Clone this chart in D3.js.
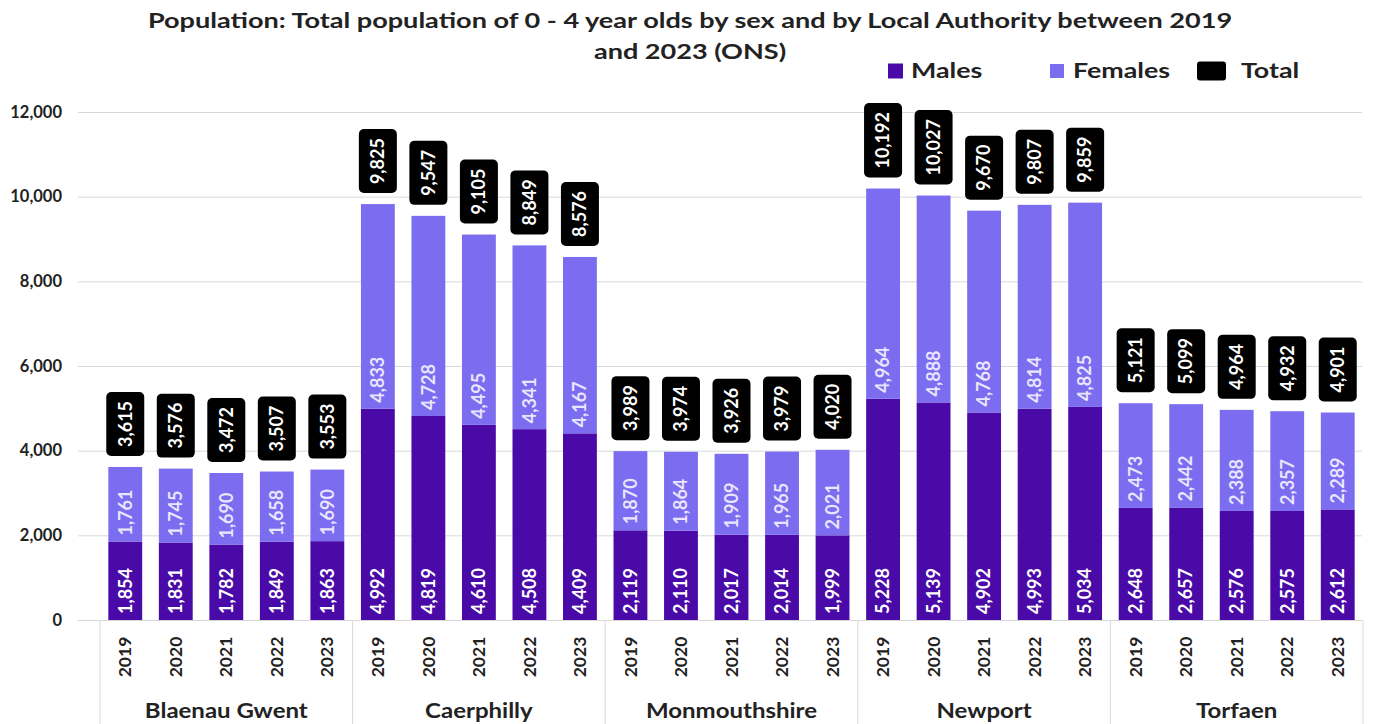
<!DOCTYPE html>
<html>
<head>
<meta charset="utf-8">
<script src="https://cdn.jsdelivr.net/npm/d3@7"></script>
<style>
  body { margin: 0; background: #fff; }
  svg { font-family: Lato, "Open Sans", sans-serif; }
</style>
</head>
<body>
<div id="chart"></div>
<script>
// categories
var authorities = ["Blaenau Gwent", "Caerphilly", "Monmouthshire", "Newport", "Torfaen"];
var years = ["2019", "2020", "2021", "2022", "2023"];

// series values (one row per authority, one value per year)
var males = [
  [1854, 1831, 1782, 1849, 1863],
  [4992, 4819, 4610, 4508, 4409],
  [2119, 2110, 2017, 2014, 1999],
  [5228, 5139, 4902, 4993, 5034],
  [2648, 2657, 2576, 2575, 2612]
];
var females = [
  [1761, 1745, 1690, 1658, 1690],
  [4833, 4728, 4495, 4341, 4167],
  [1870, 1864, 1909, 1965, 2021],
  [4964, 4888, 4768, 4814, 4825],
  [2473, 2442, 2388, 2357, 2289]
];
var totals = [
  [3615, 3576, 3472, 3507, 3553],
  [9825, 9547, 9105, 8849, 8576],
  [3989, 3974, 3926, 3979, 4020],
  [10192, 10027, 9670, 9807, 9859],
  [5121, 5099, 4964, 4932, 4901]
];
var yTicks = [0, 2000, 4000, 6000, 8000, 10000, 12000];

var W = 1379, H = 724;
var colMale = "#4a0aa8", colFemale = "#7b6cf0";
var fmt = d3.format(",");

// flatten into rows for the band scale
var rows = [];
authorities.forEach(function(a, i) {
  years.forEach(function(yr, j) {
    rows.push({key: a + "|" + yr, group: a, year: yr, m: males[i][j], f: females[i][j], t: totals[i][j]});
  });
});

var svg = d3.select("#chart").append("svg")
    .attr("width", W)
    .attr("height", H);

var x = d3.scaleBand()
    .domain(rows.map(function(d) { return d.key; }))
    .range([100, 1363])
    .paddingInner(0.33)
    .paddingOuter(0.165);

var y = d3.scaleLinear().domain([0, 12000]).range([620, 112]);

// horizontal texts in the source are drawn a bit wide, so stretch them in x
function wideText(parent, px, py, sx, anchor, size, str) {
  return parent.append("text")
      .attr("transform", "translate(" + px + "," + py + ") scale(" + sx + ",1)")
      .attr("text-anchor", anchor)
      .style("font-size", size + "px").style("font-weight", "bold")
      .attr("fill", "#222")
      .text(str);
}

// title
wideText(svg, 690, 28, 1.29, "middle", 21,
  "Population: Total population of 0 - 4 year olds by sex and by Local Authority between 2019");
wideText(svg, 690, 59, 1.29, "middle", 21, "and 2023 (ONS)");

// legend
var legend = [
  {label: "Males", color: colMale, x: 888, w: 15, h: 15, gap: 8},
  {label: "Females", color: colFemale, x: 1050, w: 14, h: 14, gap: 9},
  {label: "Total", color: "#000", x: 1197, w: 29, h: 19, gap: 15}
];
var lg = svg.append("g").attr("class", "legend");
legend.forEach(function(l) {
  lg.append("rect")
      .attr("x", l.x).attr("y", 71 - l.h / 2)
      .attr("width", l.w).attr("height", l.h)
      .attr("rx", l.label === "Total" ? 3 : 0)
      .attr("fill", l.color);
  wideText(lg, l.x + l.w + l.gap, 71, 1.34, "start", 20, l.label)
      .attr("dy", "0.35em");
});

// y axis with gridlines
var yAxis = d3.axisLeft(y)
    .tickValues(yTicks)
    .tickSize(1362 - 78)
    .tickPadding(16)
    .tickFormat(fmt);

var gy = svg.append("g")
    .attr("class", "y axis")
    .attr("transform", "translate(1362,0)")
    .call(yAxis);
gy.select(".domain").remove();
gy.selectAll("line").attr("stroke", "#d9d9d9");
gy.selectAll("text")
    .style("font-size", "16.5px").style("font-weight", "bold")
    .attr("fill", "#222").style("font-family", "Lato, sans-serif");

// bars
var bars = svg.append("g").attr("class", "bars");
var bw = x.bandwidth();

bars.selectAll(".male").data(rows).enter().append("rect")
    .attr("class", "male")
    .attr("x", function(d) { return x(d.key); })
    .attr("y", function(d) { return y(d.m); })
    .attr("width", bw)
    .attr("height", function(d) { return y(0) - y(d.m); })
    .attr("fill", colMale);

bars.selectAll(".female").data(rows).enter().append("rect")
    .attr("class", "female")
    .attr("x", function(d) { return x(d.key); })
    .attr("y", function(d) { return y(d.t); })
    .attr("width", bw)
    .attr("height", function(d) { return y(d.m) - y(d.t); })
    .attr("fill", colFemale);

// segment labels (inside base, rotated)
function segLabel(cls, base, val, fill) {
  svg.append("g").selectAll("text").data(rows).enter().append("text")
      .attr("class", cls)
      .attr("transform", function(d) {
        return "translate(" + (x(d.key) + bw / 2) + "," + (y(base(d)) - 6) + ") rotate(-90)";
      })
      .attr("dy", "0.35em")
      .attr("text-anchor", "start")
      .style("font-size", "18px").style("font-weight", "bold")
      .attr("fill", fill)
      .text(function(d) { return fmt(val(d)); });
}
segLabel("male-label", function() { return 0; }, function(d) { return d.m; }, "#fff");
segLabel("female-label", function(d) { return d.m; }, function(d) { return d.f; }, "#e9e5ff");

// total labels in black boxes above each bar
var tg = svg.append("g").attr("class", "totals").selectAll("g").data(rows).enter().append("g");
tg.each(function(d) {
  var g = d3.select(this);
  var cx = x(d.key) + bw / 2;
  var t = g.append("text")
      .attr("dy", "0.35em")
      .attr("text-anchor", "middle")
      .style("font-size", "18px").style("font-weight", "bold")
      .attr("fill", "#fff")
      .text(fmt(d.t));
  var len = t.node().getComputedTextLength();
  var bh = len + 18, bwid = 38;
  var bottom = y(d.t) - 11;
  g.insert("rect", "text")
      .attr("x", cx - bwid / 2).attr("y", bottom - bh)
      .attr("width", bwid).attr("height", bh)
      .attr("rx", 5)
      .attr("fill", "#000");
  t.attr("transform", "translate(" + cx + "," + (bottom - bh / 2) + ") rotate(-90)");
});

// category axis: year labels, group labels and separators
var xa = svg.append("g").attr("class", "x axis");
xa.selectAll(".year").data(rows).enter().append("text")
    .attr("class", "year")
    .attr("transform", function(d) { return "translate(" + (x(d.key) + bw / 2) + ",657) rotate(-90)"; })
    .attr("dy", "0.35em")
    .attr("text-anchor", "middle")
    .style("font-size", "17.5px").style("font-weight", "bold").attr("fill", "#222")
    .text(function(d) { return d.year; });

var step = x.step();
var seps = d3.range(authorities.length + 1).map(function(i) { return 100 + i * 5 * step; });
xa.selectAll(".sep").data(seps).enter().append("line")
    .attr("class", "sep")
    .attr("x1", function(d) { return d; }).attr("x2", function(d) { return d; })
    .attr("y1", 620).attr("y2", H)
    .attr("stroke", "#d9d9d9");

authorities.forEach(function(a) {
  wideText(xa, x(a + "|2021") + bw / 2, 718, 1.2, "middle", 20, a);
});
</script>
</body>
</html>
